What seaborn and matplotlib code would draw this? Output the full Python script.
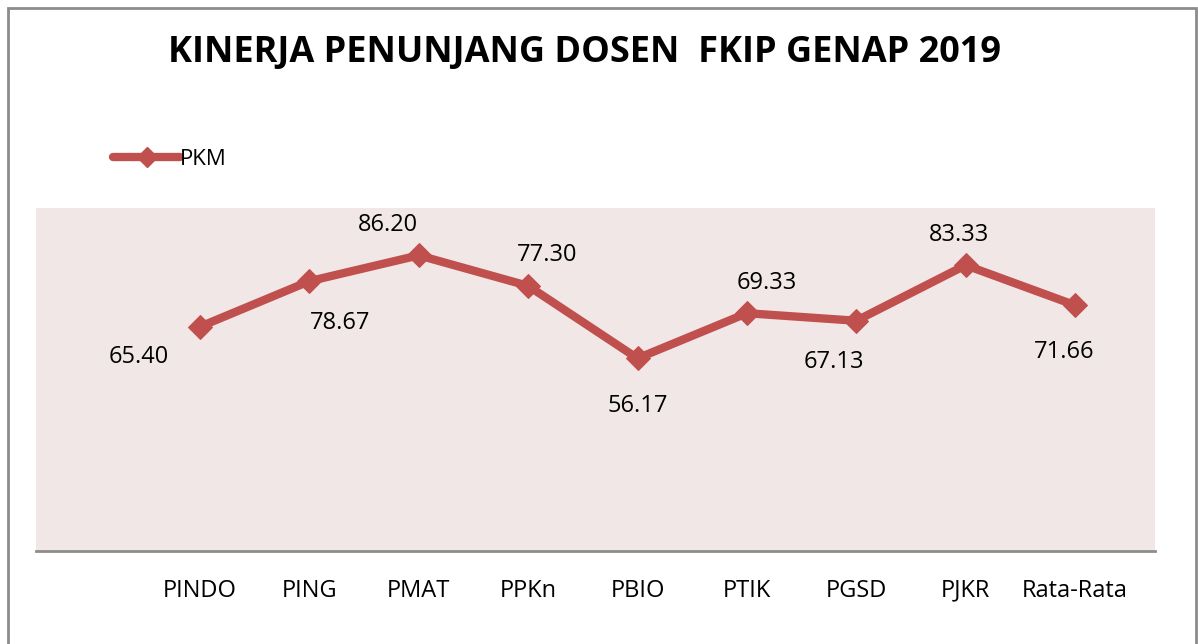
import matplotlib.pyplot as plt
import matplotlib.patches as patches
import pandas as pd
import seaborn as sns

categories = ["PINDO", "PING", "PMAT", "PPKn", "PBIO", "PTIK", "PGSD", "PJKR", "Rata-Rata"]
pkm = [65.40, 78.67, 86.20, 77.30, 56.17, 69.33, 67.13, 83.33, 71.66]
# label placement: True = above the point, False = below
label_above = [False, False, True, True, False, True, False, True, False]

line_color = "#C0504D"
bg_color = "#F2E7E7"

sns.set_style("white")
plt.rcParams['font.family'] = ['Open Sans', 'DejaVu Sans']
plt.rcParams['text.color'] = 'black'
plt.rcParams['xtick.color'] = 'black'

data = pd.DataFrame({"prodi": categories, "PKM": pkm})
data["x"] = range(len(categories))

fig = plt.figure(figsize=(11.98, 6.44), dpi=100)
ax = fig.add_axes([0.030, 0.1444, 0.934, 0.5326])
ax.set_facecolor(bg_color)

sns.lineplot(x="x", y="PKM", data=data, ax=ax, color=line_color, linewidth=6,
             marker="D", markersize=12, markeredgecolor=line_color, label="PKM",
             legend=False)

offsets = {0: (-44, -22), 1: (22, -30), 2: (-22, 22), 3: (14, 22), 4: (0, -34),
           5: (14, 22), 6: (-16, -30), 7: (-5, 22), 8: (-8, -34)}
for i, row in data.iterrows():
    ax.annotate(f"{row['PKM']:.2f}", (row["x"], row["PKM"]), xytext=offsets[i],
                textcoords="offset points", ha="center", va="center", fontsize=17)

ax.set_xlim(-1.5, 8.73)
ax.set_ylim(0, 100)
ax.set_xticks(data["x"])
ax.set_xticklabels(categories, fontsize=17)
ax.tick_params(axis="x", length=0, pad=20)
ax.set_yticks([])
ax.set_xlabel("")
ax.set_ylabel("")
for s in ["top", "left", "right"]:
    ax.spines[s].set_visible(False)
ax.spines["bottom"].set_color("#8C8C8C")
ax.spines["bottom"].set_linewidth(2)

fig.text(0.488, 0.917, "KINERJA PENUNJANG DOSEN  FKIP GENAP 2019", ha="center",
         va="center", fontsize=26, fontweight="bold")

handle = plt.Line2D([], [], color=line_color, linewidth=6, marker="D",
                    markersize=10, solid_capstyle="round")
fig.legend([handle], ["PKM"], loc="center left", bbox_to_anchor=(0.078, 0.752),
           frameon=False, fontsize=16, handlelength=3.0, handletextpad=0.0)

fig.add_artist(patches.Rectangle((8 / 1198, -0.05), 1188 / 1198, 0.05 + 636 / 644,
                                 transform=fig.transFigure, fill=False,
                                 edgecolor="#8C8C8C", linewidth=2))

fig.savefig("out.png", dpi=100)
